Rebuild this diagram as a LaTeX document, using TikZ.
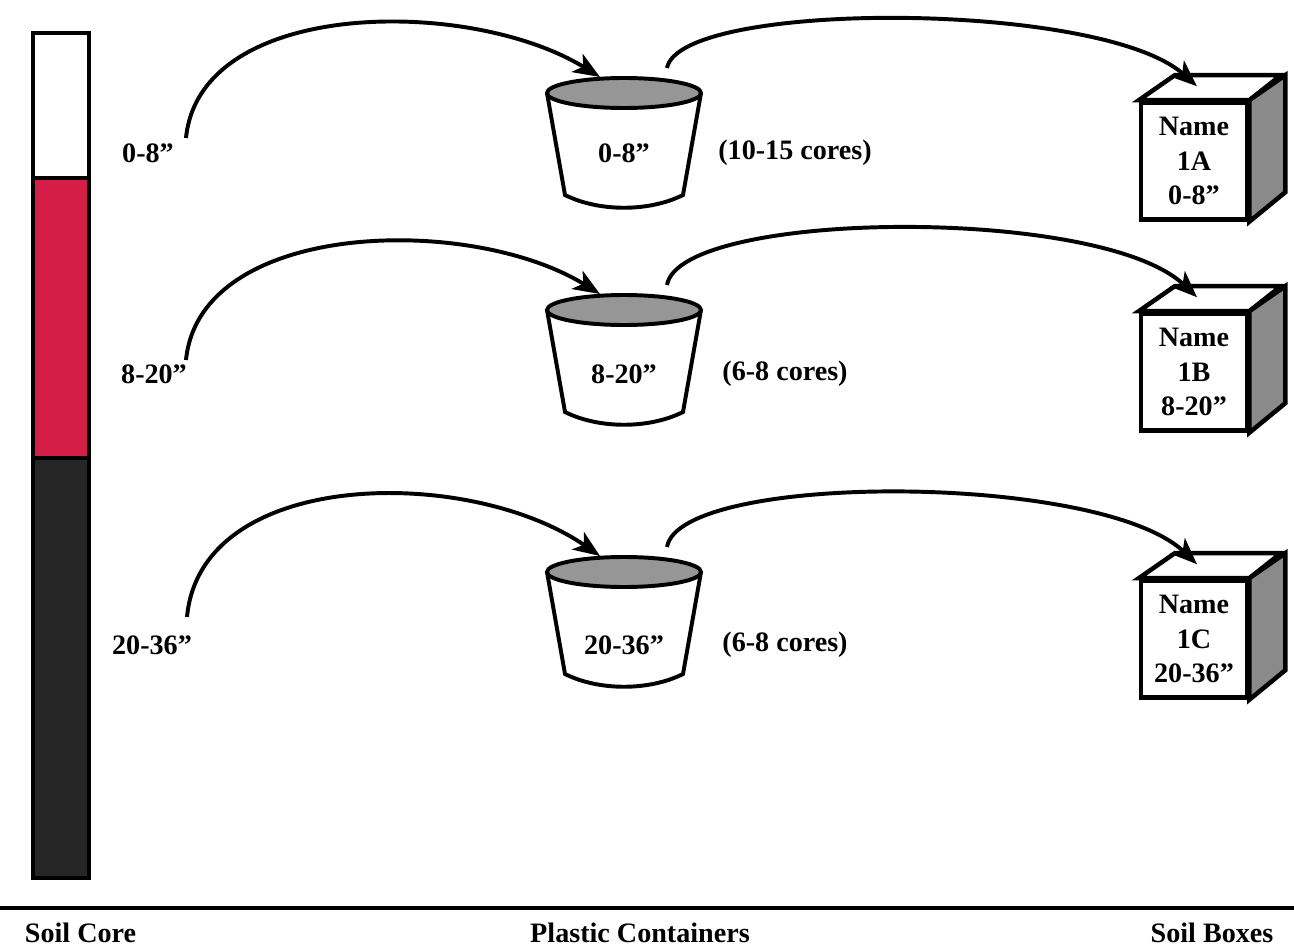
\documentclass[tikz,border=0pt]{standalone}
\usepackage{fontspec}
\setmainfont{Liberation Serif}
\usetikzlibrary{arrows.meta,calc}
\definecolor{topsoil}{RGB}{212,30,72}
\definecolor{subsoil}{RGB}{38,38,38}
\definecolor{rimgray}{RGB}{150,150,150}
\definecolor{sidegray}{RGB}{138,138,138}

\begin{document}
\begin{tikzpicture}[x=0.0125cm,y=-0.0125cm,font=\fontsize{10}{12.4}\selectfont\bfseries]
\useasboundingbox (0,0) rectangle (1294,945);

\tikzset{flow/.style={-{Stealth[length=9.5pt,width=7.5pt,inset=2.5pt]},line width=1.4pt}};
\tikzset{boxface/.style={draw,line width=1.6pt,fill=white,minimum width=1.325cm,minimum height=1.4625cm,inner sep=0pt,align=center}};
\tikzset{bucket/.pic={
  \draw[line width=1.4pt,fill=white] (-77,0) -- (-59,102) .. controls (-25,119) and (25,119) .. (59,102) -- (77,0);
  \draw[line width=1.4pt,fill=rimgray] (0,0) ellipse [x radius=77,y radius=15];
}};

% soil core
\draw[line width=1.2pt] (33,33) rectangle (89,178);
\draw[line width=1.2pt,fill=topsoil] (33,178) rectangle (89,458);
\draw[line width=1.2pt,fill=subsoil] (33,458) rectangle (89,878);

\node (depA) at (148,153) {0-8”};
\node (depB) at (154,374) {8-20”};
\node (depC) at (152,645) {20-36”};
\coordinate (srcA) at (186,138);
\coordinate (srcB) at (186,360);
\coordinate (srcC) at (187,617);

% plastic containers
\coordinate (rimA) at (624,93);
\coordinate (rimB) at (624,310);
\coordinate (rimC) at (624,572);
\pic at (rimA) {bucket};
\pic at (rimB) {bucket};
\pic at (rimC) {bucket};

\node (lblA) at (624,153) {0-8”};
\node (lblB) at (624,374) {8-20”};
\node (lblC) at (624,645) {20-36”};

\node (corA) at (795,153) {(10-15 cores)};
\node (corB) at (785,374) {(6-8 cores)};
\node (corC) at (785,645) {(6-8 cores)};

% soil boxes
\node[boxface] (boxA) at (1194,161) {Name\\1A\\0-8”};
\node[boxface] (boxB) at (1194,372) {Name\\1B\\8-20”};
\node[boxface] (boxC) at (1194,639) {Name\\1C\\20-36”};

\draw[line width=1.6pt,fill=white] (boxA.north west) -- ++(36,-25) -- ++(106,0) -- (boxA.north east) -- cycle;
\draw[line width=1.6pt,fill=sidegray] (boxA.north east) -- ++(36,-25) -- ++(0,117) -- (boxA.south east) -- cycle;
\draw[line width=1.6pt,fill=white] (boxB.north west) -- ++(36,-25) -- ++(106,0) -- (boxB.north east) -- cycle;
\draw[line width=1.6pt,fill=sidegray] (boxB.north east) -- ++(36,-25) -- ++(0,117) -- (boxB.south east) -- cycle;
\draw[line width=1.6pt,fill=white] (boxC.north west) -- ++(36,-25) -- ++(106,0) -- (boxC.north east) -- cycle;
\draw[line width=1.6pt,fill=sidegray] (boxC.north east) -- ++(36,-25) -- ++(0,117) -- (boxC.south east) -- cycle;

% core to containers
\draw[flow] (srcA) .. controls +(14,-140) and +(-130,-80) .. ($(rimA)+(-24,-16)$);
\draw[flow] (srcB) .. controls +(14,-140) and +(-130,-80) .. ($(rimB)+(-24,-16)$);
\draw[flow] (srcC) .. controls +(14,-150) and +(-130,-90) .. ($(rimC)+(-24,-16)$);

% containers to boxes
\draw[flow] ($(rimA)+(43,-25)$) .. controls +(13,-68) and +(-97,-86) .. ($(boxA.north)+(3,-14)$);
\draw[flow] ($(rimB)+(43,-25)$) .. controls +(13,-75) and +(-97,-92) .. ($(boxB.north)+(3,-14)$);
\draw[flow] ($(rimC)+(43,-25)$) .. controls +(13,-75) and +(-97,-92) .. ($(boxC.north)+(3,-14)$);

% captions
\draw[line width=1.4pt] (0,908) -- (1294,908);
\node[anchor=west] (capCore) at (15,933) {Soil Core};
\node (capCont) at (640,933) {Plastic Containers};
\node (capBoxes) at (1212,933) {Soil Boxes};
\end{tikzpicture}
\end{document}
